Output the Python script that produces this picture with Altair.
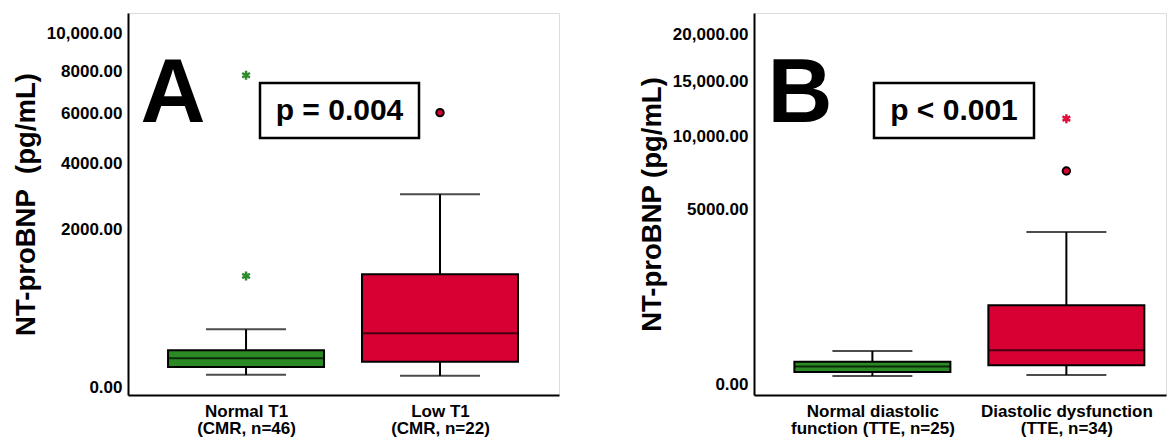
import altair as alt
import pandas as pd

FONT = "Liberation Sans"

# ---------------- Panel A data ----------------
cats_a = ["Normal T1", "Low T1"]
subs_a = ["(CMR, n=46)", "(CMR, n=22)"]
low_a = [12, 10]
q1_a = [32, 51]
med_a = [66, 231]
q3_a = [108, 1019]
high_a = [267, 2981]
circ_a_cat = ["Low T1"]
circ_a_val = [6040]
star_a_cat = ["Normal T1", "Normal T1"]
star_a_val = [7800, 990]
ticks_a = [0, 2000, 4000, 6000, 8000, 10000]

# ---------------- Panel B data ----------------
cats_b = ["Normal diastolic", "Diastolic dysfunction"]
subs_b = ["function (TTE, n=25)", "(TTE, n=34)"]
low_b = [11, 14]
q1_b = [25, 59]
med_b = [51, 189]
q3_b = [83, 1019]
high_b = [181, 3786]
circ_b_cat = ["Diastolic dysfunction"]
circ_b_val = [7427]
star_b_cat = ["Diastolic dysfunction"]
star_b_val = [11516]
ticks_b = [0, 5000, 10000, 15000, 20000]

GREEN = "#2b8a24"
RED = "#d60032"
STAR_GREEN = "#2e8b2e"
STAR_RED = "#e0103c"
ASTERISK = "M0,-1L0,1M-0.866,-0.5L0.866,0.5M-0.866,0.5L0.866,-0.5"


def panel(cats, subs, low, q1, med, q3, high, circ_cat, circ_val, star_cat,
          star_val, ticks, domain, width, pad, align, title, letter, letter_x,
          ptext, box_x, box_x2):
    labels = [c + "|" + s for c, s in zip(cats, subs)]
    lookup = dict(zip(cats, labels))
    df = pd.DataFrame({"cat": labels, "low": low, "q1": q1, "med": med,
                       "q3": q3, "high": high, "col": [GREEN, RED]})
    df_c = pd.DataFrame({"cat": [lookup[c] for c in circ_cat], "val": circ_val})
    df_s = pd.DataFrame({"cat": [lookup[c] for c in star_cat], "val": star_val,
                         "col": [STAR_GREEN if c == cats[0] else STAR_RED for c in star_cat]})

    xsc = alt.Scale(type="point", padding=pad, align=align)
    xax = alt.Axis(title=None, labelExpr="split(datum.label, '|')", labelAngle=0,
                   labelFont=FONT, labelFontSize=17, labelFontWeight="bold",
                   labelColor="black", labelLineHeight=17.5, labelPadding=8,
                   ticks=False, domainColor="black", domainWidth=2, grid=False)
    ysc = alt.Scale(type="sqrt", domain=domain, nice=False, zero=False)
    yax = alt.Axis(title=title, values=ticks,
                   labelExpr="datum.value >= 10000 ? format(datum.value, ',.2f') : format(datum.value, '.2f')",
                   labelFont=FONT, labelFontSize=17, labelFontWeight="bold",
                   labelColor="black", labelPadding=6, ticks=False,
                   domainColor="black", domainWidth=2, grid=False,
                   titleFont=FONT, titleFontSize=27.5, titleFontWeight="bold",
                   titleColor="black", titleX=-94, titleBaseline="alphabetic")

    X = alt.X("cat:N", sort=labels, scale=xsc, axis=xax)
    base = alt.Chart(df)

    whisk = base.mark_rule(color="black", strokeWidth=2).encode(
        x=X, y=alt.Y("low:Q", scale=ysc, axis=yax), y2="high:Q")
    box = base.mark_bar(size=156, stroke="black", strokeWidth=2).encode(
        x=X, y=alt.Y("q1:Q", scale=ysc, axis=yax), y2="q3:Q",
        fill=alt.Fill("col:N", scale=None))
    median = base.mark_tick(orient="horizontal", size=156, thickness=2,
                            color="black").encode(
        x=X, y=alt.Y("med:Q", scale=ysc, axis=yax))
    cap_lo = base.mark_tick(orient="horizontal", size=80, thickness=2,
                            color="black").encode(
        x=X, y=alt.Y("low:Q", scale=ysc, axis=yax))
    cap_hi = base.mark_tick(orient="horizontal", size=80, thickness=2,
                            color="black").encode(
        x=X, y=alt.Y("high:Q", scale=ysc, axis=yax))
    circ = alt.Chart(df_c).mark_point(filled=True, fill=RED, stroke="black",
                                      strokeWidth=2, size=55, opacity=1).encode(
        x=X, y=alt.Y("val:Q", scale=ysc, axis=yax))
    star = alt.Chart(df_s).mark_point(shape=ASTERISK, filled=False,
                                      strokeWidth=2.5, size=80, opacity=1).encode(
        x=X, y=alt.Y("val:Q", scale=ysc, axis=yax),
        stroke=alt.Stroke("col:N", scale=None))

    ann = pd.DataFrame({"letter": [letter], "p": [ptext]})
    letter_m = alt.Chart(ann).mark_text(font=FONT, fontSize=90, fontWeight="bold",
                                        color="black", baseline="alphabetic",
                                        align="center").encode(
        x=alt.value(letter_x), y=alt.value(109), text="letter:N")
    pbox = alt.Chart(ann).mark_rect(fill="white", stroke="black",
                                    strokeWidth=2.5).encode(
        x=alt.value(box_x), x2=alt.value(box_x2), y=alt.value(70), y2=alt.value(125))
    ptxt = alt.Chart(ann).mark_text(font=FONT, fontSize=30, fontWeight="bold",
                                    color="black", baseline="middle",
                                    align="center").encode(
        x=alt.value((box_x + box_x2) / 2), y=alt.value(98), text="p:N")

    return alt.layer(whisk, box, median, cap_lo, cap_hi, circ, star,
                     letter_m, pbox, ptxt).properties(width=width, height=382)


pa = panel(cats_a, subs_a, low_a, q1_a, med_a, q3_a, high_a, circ_a_cat,
           circ_a_val, star_a_cat, star_a_val, ticks_a, [-5.1, 11225], 431,
           0.611, 0.498, "NT-proBNP\u00a0\u00a0(pg/mL)", "A", 45, "p = 0.004", 132, 291)
pb = panel(cats_b, subs_b, low_b, q1_b, med_b, q3_b, high_b, circ_b_cat,
           circ_b_val, star_b_cat, star_b_val, ticks_b, [-18.7, 22500], 412,
           0.562, 0.543, "NT-proBNP (pg/mL)", "B", 46, "p < 0.001", 120, 280)

chart = alt.hconcat(pa, pb, spacing=77).properties(
    padding={"left": 3, "top": 4, "right": 0, "bottom": 0}
).configure_view(stroke=None).configure(background="white")

chart.save("out.html", embed_options={"renderer": "svg", "actions": False})
